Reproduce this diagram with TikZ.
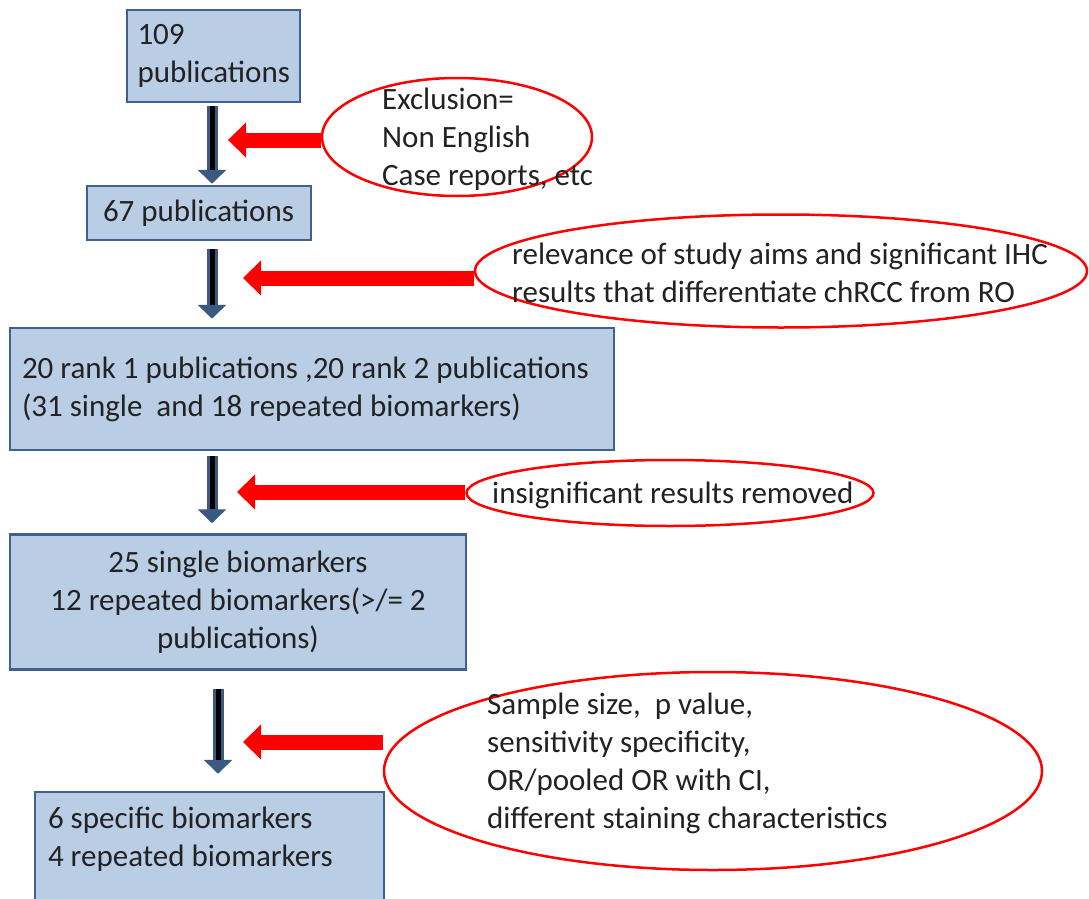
\documentclass[tikz,border=0pt]{standalone}
\usepackage{fontspec}
\setmainfont{Carlito}
\usetikzlibrary{arrows.meta,shapes.geometric}
\definecolor{boxfill}{HTML}{B9CDE5}
\definecolor{boxline}{HTML}{3F6190}
\definecolor{txt}{HTML}{222222}
\definecolor{navy}{HTML}{3B5A82}
\begin{document}
\begin{tikzpicture}[x=1pt,y=-1pt, font=\fontsize{31}{38}\selectfont, text=txt,
  box/.style={draw=boxline, line width=2.5pt, fill=boxfill, inner sep=0pt},
  ell/.style={ellipse, draw=red, line width=2.5pt, inner sep=0pt},
  etext/.style={anchor=west, align=left, inner sep=0pt},
  darr/.style={draw=navy, line width=11pt, -{Triangle[width=28pt,length=14pt]}},
  dcore/.style={draw=black, line width=5pt},
  rarr/.style={draw=red, line width=15pt, -{Triangle[width=34pt,length=18pt]}}]
\clip (0,0) rectangle (1089,899);
\fill[white] (0,0) rectangle (1089,899);
% boxes
\node[box, minimum width=173pt, minimum height=92pt, text width=152pt, align=flush left] (b1) at (213.5,56) {109\\publications};
\node[box, minimum width=224pt, minimum height=54pt, text width=192pt, align=flush left] (b2) at (199,213) {67 publications};
\node[box, minimum width=604pt, minimum height=122pt, text width=580pt, align=flush left] (b3) at (312,389) {20 rank 1 publications ,20 rank 2 publications\\(31 single \ and 18 repeated biomarkers)};
\node[box, minimum width=456pt, minimum height=135pt, text width=440pt, align=flush center] (b4) at (238,602) {25 single biomarkers\\12 repeated biomarkers(>/= 2\\publications)};
\node[box, minimum width=349pt, minimum height=128pt, text width=323pt, align=flush left] (b5) at (209.5,856) {6 specific biomarkers\\4 repeated biomarkers\\\mbox{}};
% ellipses
\node[ell, minimum width=270pt, minimum height=118pt] (e1) at (457,137) {};
\node[ell, minimum width=612pt, minimum height=113pt] (e2) at (781,271) {};
\node[ell, minimum width=407pt, minimum height=66pt] (e3) at (670,493) {};
\node[ell, minimum width=658pt, minimum height=198pt] (e4) at (713,771) {};
\node[etext] (x1) at (382,139) {Exclusion=\\Non English\\Case reports, etc};
\node[etext] (x2) at (512,273) {relevance of study aims and significant IHC\\results that differentiate chRCC from RO};
\node[etext] (x3) at (492,495) {insignificant results removed};
\node[etext] (x4) at (487,763) {Sample size, \ p value,\\sensitivity specificity,\\OR/pooled OR with CI,\\different staining characteristics};
% dark arrows
\coordinate (ax) at (212,0);
\coordinate (ay) at (218,0);
\draw[darr, shorten <=3pt, shorten >=1pt] (b1.south -| ax) -- (b2.north -| ax);
\draw[dcore, shorten <=3pt, shorten >=15pt] (b1.south -| ax) -- (b2.north -| ax);
\draw[darr, shorten <=8pt, shorten >=8pt] (b2.south -| ax) -- (b3.north -| ax);
\draw[dcore, shorten <=8pt, shorten >=22pt] (b2.south -| ax) -- (b3.north -| ax);
\draw[darr, shorten <=5pt, shorten >=10pt] (b3.south -| ax) -- (b4.north -| ax);
\draw[dcore, shorten <=5pt, shorten >=24pt] (b3.south -| ax) -- (b4.north -| ax);
\draw[darr, shorten <=18pt, shorten >=17pt] (b4.south -| ay) -- (b5.north -| ay);
\draw[dcore, shorten <=18pt, shorten >=31pt] (b4.south -| ay) -- (b5.north -| ay);
% red arrows
\coordinate (t1) at (228,140);
\coordinate (t2) at (243,278);
\coordinate (t3) at (237,492);
\coordinate (t4) at (243,742);
\draw[rarr] (t1 -| e1.west) -- (t1);
\draw[rarr] (t2 -| e2.west) -- (t2);
\draw[rarr] (t3 -| e3.west) -- (t3);
\draw[rarr] (t4 -| e4.west) -- (t4);
\end{tikzpicture}
\end{document}
